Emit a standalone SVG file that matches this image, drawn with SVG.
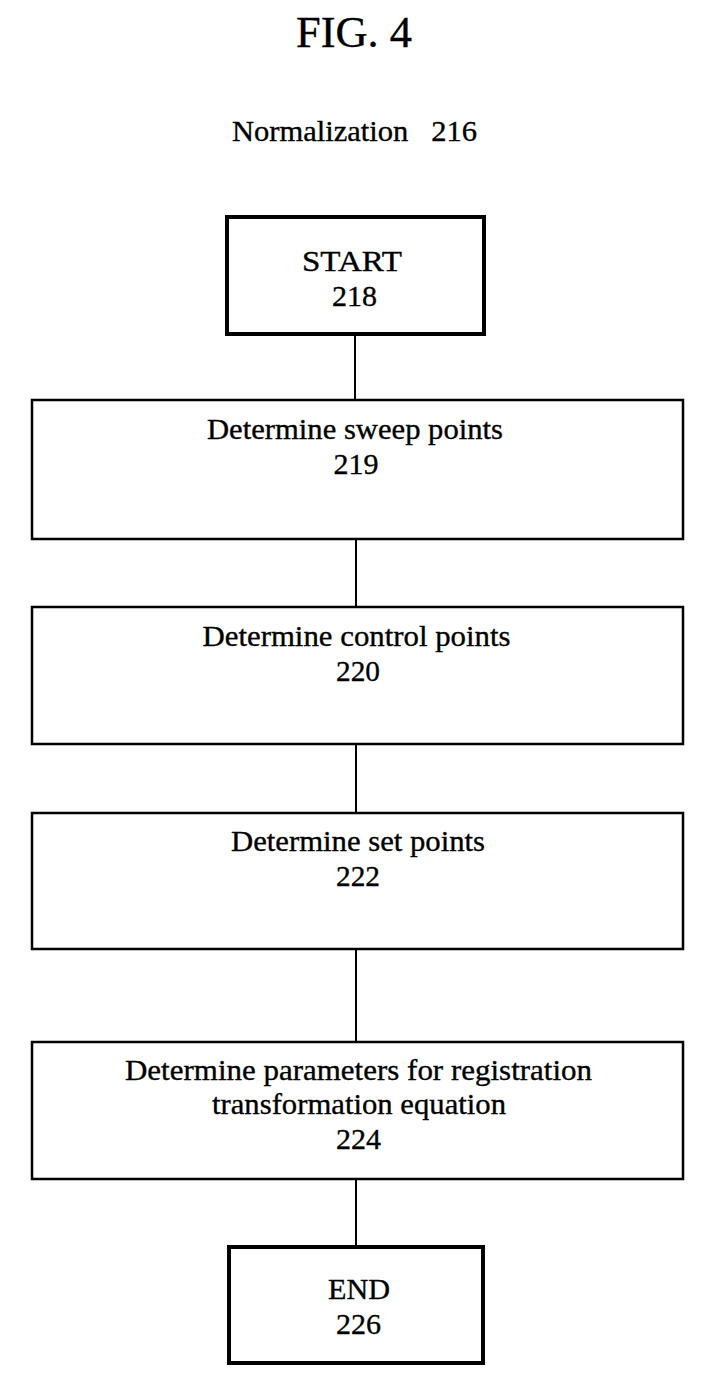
<svg xmlns="http://www.w3.org/2000/svg" width="710" height="1381" viewBox="0 0 710 1381">
<style>
.t{font-family:"Liberation Serif","Times New Roman",serif;fill:#000;text-anchor:middle;stroke:#000;stroke-width:0.35}
.b{font-size:30px}
.box{fill:#fff;stroke:#000;stroke-width:2.5}
.term{fill:#fff;stroke:#000;stroke-width:4}
.c{stroke:#000;stroke-width:2;fill:none}
</style>
<rect width="710" height="1381" fill="#fff"/>
<g id="title">
<text class="t" x="354" y="47" font-size="45" textLength="116" lengthAdjust="spacingAndGlyphs">FIG. 4</text>
<text class="t" x="354.5" y="141" font-size="30" textLength="245" lengthAdjust="spacingAndGlyphs" xml:space="preserve">Normalization   216</text>
</g>
<g id="connectors">
<line class="c" x1="355" y1="334" x2="355" y2="400"/>
<line class="c" x1="356" y1="539" x2="356" y2="607"/>
<line class="c" x1="356" y1="744" x2="356" y2="813"/>
<line class="c" x1="356" y1="949" x2="356" y2="1042"/>
<line class="c" x1="356" y1="1179" x2="356" y2="1247"/>
</g>
<g id="n218">
<rect class="term" x="227" y="217" width="257" height="117"/>
<text class="t b" x="352" y="271" textLength="100" lengthAdjust="spacingAndGlyphs">START</text>
<text class="t b" x="354.5" y="306" textLength="45" lengthAdjust="spacingAndGlyphs">218</text>
</g>
<g id="n219">
<rect class="box" x="32" y="400" width="651" height="139"/>
<text class="t b" x="355" y="439" textLength="296" lengthAdjust="spacingAndGlyphs">Determine sweep points</text>
<text class="t b" x="356" y="474" textLength="45" lengthAdjust="spacingAndGlyphs">219</text>
</g>
<g id="n220">
<rect class="box" x="32" y="607" width="651" height="137"/>
<text class="t b" x="356.5" y="646" textLength="308" lengthAdjust="spacingAndGlyphs">Determine control points</text>
<text class="t b" x="358" y="681" textLength="44" lengthAdjust="spacingAndGlyphs">220</text>
</g>
<g id="n222">
<rect class="box" x="32" y="813" width="651" height="136"/>
<text class="t b" x="358" y="851" textLength="254" lengthAdjust="spacingAndGlyphs">Determine set points</text>
<text class="t b" x="358" y="886" textLength="44" lengthAdjust="spacingAndGlyphs">222</text>
</g>
<g id="n224">
<rect class="box" x="32" y="1042" width="651" height="137"/>
<text class="t b" x="358.5" y="1080" textLength="467" lengthAdjust="spacingAndGlyphs">Determine parameters for registration</text>
<text class="t b" x="359" y="1114" textLength="294" lengthAdjust="spacingAndGlyphs">transformation equation</text>
<text class="t b" x="358.5" y="1149" textLength="45" lengthAdjust="spacingAndGlyphs">224</text>
</g>
<g id="n226">
<rect class="term" x="229" y="1247" width="254" height="116"/>
<text class="t b" x="359" y="1299" textLength="62" lengthAdjust="spacingAndGlyphs">END</text>
<text class="t b" x="358.5" y="1334" textLength="45" lengthAdjust="spacingAndGlyphs">226</text>
</g>
</svg>
